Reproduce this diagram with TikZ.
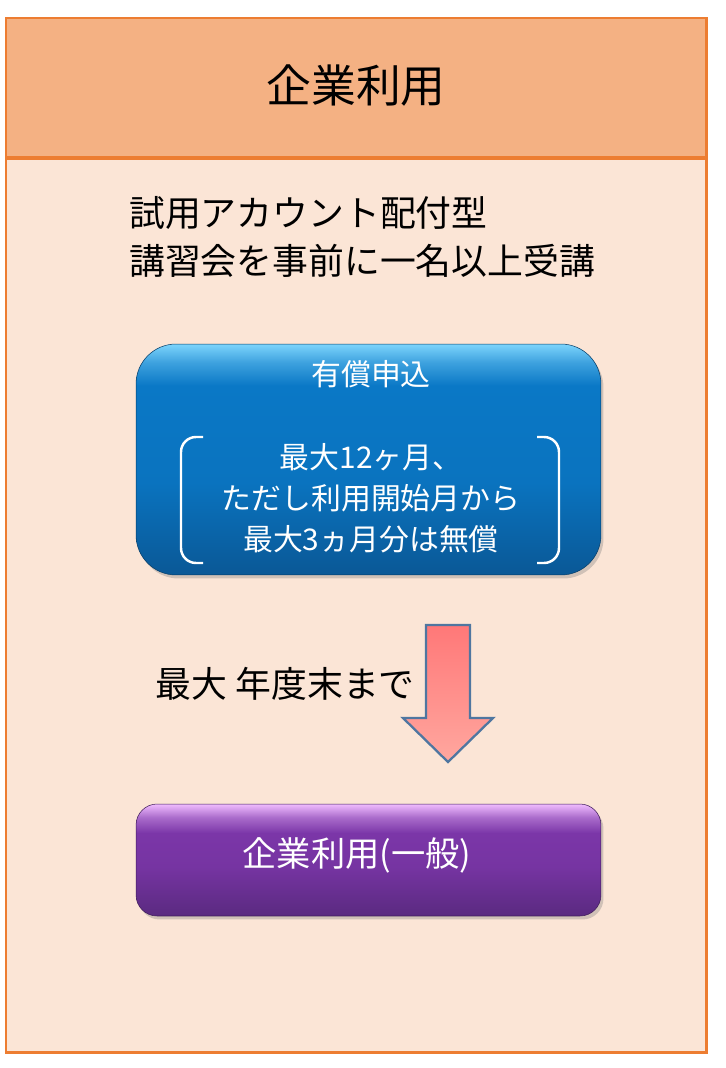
\documentclass[tikz,border=0pt]{standalone}
\usepackage{fontspec}
\setmainfont{Noto Sans CJK JP}
\usetikzlibrary{positioning,shadows}
\definecolor{frameorange}{HTML}{ED7D31}
\definecolor{headfill}{HTML}{F4B183}
\definecolor{bodyfill}{HTML}{FBE5D6}
\definecolor{blueL}{HTML}{7CD4FC}
\definecolor{blueM}{HTML}{0A78C6}
\definecolor{blueD}{HTML}{0A5896}
\definecolor{purpleL}{HTML}{F0BCFF}
\definecolor{purpleM}{HTML}{7B36A8}
\definecolor{purpleD}{HTML}{5A2A80}
\definecolor{arrowtop}{HTML}{FF7878}
\definecolor{arrowbot}{HTML}{FFA79F}
\definecolor{arrowline}{HTML}{4F76A0}
% visible part of a shading is 25bp..75bp
\pgfdeclareverticalshading{blueglass}{100bp}{color(0bp)=(blueD); color(25bp)=(blueD); color(45bp)=(blueM!85!blueD); color(66bp)=(blueM); color(71bp)=(blueL!45!blueM); color(75bp)=(blueL); color(100bp)=(blueL)}
\pgfdeclareverticalshading{purpleglass}{100bp}{color(0bp)=(purpleD); color(25bp)=(purpleD); color(47bp)=(purpleM!85!purpleD); color(62bp)=(purpleM); color(69bp)=(purpleL!40!purpleM); color(75bp)=(purpleL); color(100bp)=(purpleL)}

\begin{document}
\begin{tikzpicture}[
  x=0.02cm, y=-0.02cm,
  frame/.style={draw=frameorange, line width=1.7pt},
  glassbox/.style={rounded corners=#1, minimum width=9.3cm, inner sep=0pt,
    drop shadow={shadow xshift=0.05cm, shadow yshift=-0.07cm, opacity=0.35}},
  bigtext/.style={font=\fontsize{25.5pt}{30pt}\selectfont},
  note/.style={font=\fontsize{20.4pt}{27.8pt}\selectfont, align=left},
  boxtext/.style={text=white, font=\fontsize{17pt}{23.2pt}\selectfont, align=center},
  bracket/.style={draw=white, line width=1.4pt, rounded corners=0.3cm}
]
  \useasboundingbox (0,0) rectangle (725,1068);
  % frame and header
  \fill[bodyfill] (6,18) rectangle (706,1052);
  \fill[headfill] (6,18) rectangle (706,158);
  \draw[frameorange, line width=2.4pt] (6,158) -- (706,158);
  \draw[frame] (6,18) rectangle (706,1052);
  \node[bigtext] (title) at (356,86) {企業利用};

  \node[note, anchor=west] (cond) at (123,237) {試用アカウント配付型\\講習会を事前に一名以上受講};

  % paid application
  \node[glassbox=0.8cm, minimum height=4.62cm, shading=blueglass, draw=blueD!70!black, line width=0.3pt] (paid) at (368.5,459.5) {};
  \node[boxtext] (paidhead) at (371,374) {有償申込};
  \node[boxtext] (paiddetail) at (371,498) {最大12ヶ月、\\ただし利用開始月から\\最大3ヵ月分は無償};
  \draw[bracket] (203,437) -- (181,437) -- (181,563) -- (203,563);
  \draw[bracket] (537,437) -- (559,437) -- (559,563) -- (537,563);

  % limit arrow
  \node[note, anchor=east] (limit) at (421,684) {最大 年度末まで};
  \shade[top color=arrowtop, bottom color=arrowbot, draw=arrowline, line width=1.3pt, line join=miter]
    (426,625) -- (470,625) -- (470,718) -- (493,718) -- (448,762) -- (403,718) -- (426,718) -- cycle;

  % general use
  \node[glassbox=0.42cm, minimum height=2.24cm, shading=purpleglass, draw=purpleD!70!black, line width=0.3pt] (general) at (368.5,860) {};
  \node[boxtext, font=\fontsize{19.5pt}{23pt}\selectfont] (generaltext) at (357,855) {企業利用(一般)};
\end{tikzpicture}
\end{document}
